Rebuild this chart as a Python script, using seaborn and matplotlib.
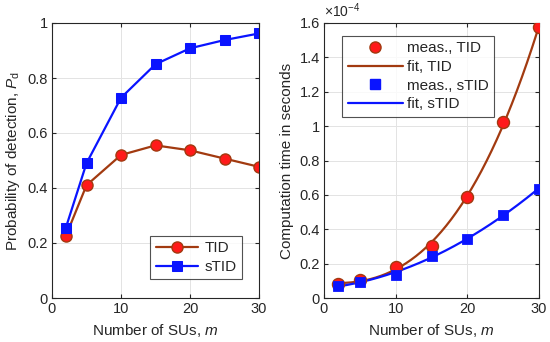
import numpy as np
import pandas as pd
import matplotlib
matplotlib.use("Agg")
import matplotlib.pyplot as plt
import seaborn as sns
from matplotlib.ticker import FormatStrFormatter, MultipleLocator
from matplotlib.lines import Line2D

# data
m_values = [2, 5, 10, 15, 20, 25, 30]
pd_tid = [0.225, 0.41, 0.52, 0.555, 0.537, 0.507, 0.477]
pd_stid = [0.255, 0.49, 0.728, 0.85, 0.908, 0.938, 0.962]
# computation time, in units of 1e-4 s
time_tid = [0.08, 0.105, 0.18, 0.305, 0.59, 1.025, 1.575]
time_stid = [0.07, 0.095, 0.135, 0.245, 0.345, 0.485, 0.635]

TID_LINE = "#a23a10"
TID_FACE = "#ff1a1a"
STID = "#0a14ff"
FS = 11

sns.set_style("whitegrid")
plt.rcParams["font.family"] = ["Liberation Sans", "DejaVu Sans"]
plt.rcParams["mathtext.fontset"] = "custom"
plt.rcParams["mathtext.rm"] = "Liberation Sans"
plt.rcParams["mathtext.it"] = "Liberation Sans:italic"

fig = plt.figure(figsize=(5.5, 3.42), dpi=100)
ax1 = fig.add_axes([52 / 550, 1 - 298 / 342, 207 / 550, 275 / 342])
ax2 = fig.add_axes([324 / 550, 1 - 298 / 342, 215 / 550, 275 / 342])

df = pd.DataFrame({"m": m_values, "tid": pd_tid, "stid": pd_stid,
                   "t_tid": time_tid, "t_stid": time_stid})

# left panel
sns.lineplot(data=df, x="m", y="tid", ax=ax1, color=TID_LINE, lw=1.6,
             marker="o", markersize=8, markerfacecolor=TID_FACE,
             markeredgecolor=TID_LINE, markeredgewidth=1.0, label="TID")
sns.lineplot(data=df, x="m", y="stid", ax=ax1, color=STID, lw=1.6,
             marker="s", markersize=7, markerfacecolor=STID,
             markeredgecolor=STID, label="sTID")
ax1.set_xlim(0, 30)
ax1.set_ylim(0, 1)
ax1.yaxis.set_major_locator(MultipleLocator(0.2))
ax1.set_ylabel("Probability of detection, $\\mathit{P}_{\\mathrm{d}}$", fontsize=FS)
leg1 = ax1.legend(loc="lower right", fontsize=FS, frameon=True, fancybox=False,
                  edgecolor="#262626", borderpad=0.35, handlelength=2.8,
                  handletextpad=0.4, labelspacing=0.3,
                  bbox_to_anchor=(0.955, 0.04))
leg1.get_frame().set_linewidth(0.8)

# right panel: measured points and polynomial fits
mm = np.linspace(2, 30, 200)
fit_tid = np.polyval(np.polyfit(m_values, time_tid, 3), mm)
fit_stid = np.polyval(np.polyfit(m_values, time_stid, 2), mm)
fit_df = pd.DataFrame({"m": mm, "tid": fit_tid, "stid": fit_stid})

sns.lineplot(data=fit_df, x="m", y="tid", ax=ax2, color=TID_LINE, lw=1.6)
sns.lineplot(data=fit_df, x="m", y="stid", ax=ax2, color=STID, lw=1.6)
sns.scatterplot(data=df, x="m", y="t_tid", ax=ax2, marker="o", s=75,
                color=TID_FACE, edgecolor=TID_LINE, linewidth=1.0, zorder=3)
sns.scatterplot(data=df, x="m", y="t_stid", ax=ax2, marker="s", s=55,
                color=STID, edgecolor=STID, zorder=3)
ax2.set_xlim(0, 30)
ax2.set_ylim(0, 1.6)
ax2.yaxis.set_major_locator(MultipleLocator(0.2))
ax2.set_ylabel("Computation time in seconds", fontsize=FS)
ax2.text(0.0, 1.01, "$\\times10^{-4}$", transform=ax2.transAxes,
         fontsize=10, ha="left", va="bottom")
handles = [
    Line2D([], [], ls="none", marker="o", markersize=8, markerfacecolor=TID_FACE,
           markeredgecolor=TID_LINE),
    Line2D([], [], color=TID_LINE, lw=1.6),
    Line2D([], [], ls="none", marker="s", markersize=7, markerfacecolor=STID,
           markeredgecolor=STID),
    Line2D([], [], color=STID, lw=1.6),
]
leg2 = ax2.legend(handles, ["meas., TID", "fit, TID", "meas., sTID", "fit, sTID"],
                  loc="upper left", fontsize=FS, frameon=True, fancybox=False,
                  edgecolor="#262626", borderpad=0.35, handlelength=3.6,
                  handletextpad=0.3, labelspacing=0.3,
                  bbox_to_anchor=(0.05, 0.98))
leg2.get_frame().set_linewidth(0.8)

for ax in (ax1, ax2):
    ax.set_xlabel("Number of SUs, $\\mathit{m}$", fontsize=FS)
    ax.xaxis.set_major_locator(MultipleLocator(10))
    ax.yaxis.set_major_formatter(FormatStrFormatter("%g"))
    ax.grid(True, color="#e3e3e3", lw=0.7)
    ax.tick_params(direction="in", length=3, labelsize=10.5, color="#262626",
                   top=True, right=True, bottom=True, left=True, pad=3)
    for s in ax.spines.values():
        s.set_visible(True)
        s.set_color("#262626")
        s.set_linewidth(0.8)
    ax.set_facecolor("white")

fig.savefig("out.png", dpi=100)
